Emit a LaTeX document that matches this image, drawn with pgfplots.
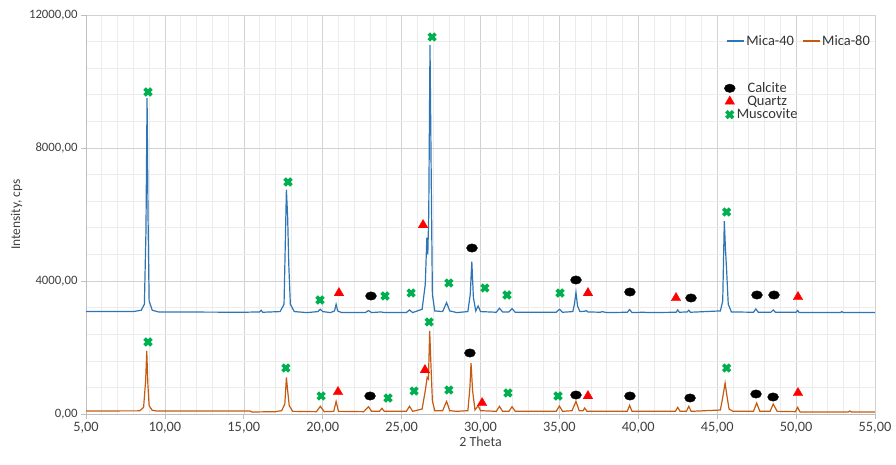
\documentclass[border=0pt]{standalone}
\usepackage{pgfplots}
\pgfplotsset{compat=1.18}
\usepackage{fontspec}
\setmainfont{Carlito}
\definecolor{micablue}{RGB}{46,117,182}
\definecolor{micaorange}{RGB}{197,90,17}
\definecolor{musgreen}{RGB}{0,176,80}
\definecolor{majgrid}{RGB}{210,210,210}
\definecolor{mingrid}{RGB}{236,236,236}
\definecolor{axgray}{RGB}{190,190,190}
\begin{document}
\begin{tikzpicture}
\useasboundingbox (0,0) rectangle (896bp,465bp);
\pgfplotsset{
  base/.style={
    at={(86bp,51bp)}, anchor=south west,
    scale only axis, width=789bp, height=399bp,
    xmin=5, xmax=55, ymin=0, ymax=12000,
  }
}
\begin{axis}[base,
  xtick={5,10,...,55}, ytick={0,4000,8000,12000},
  scaled y ticks=false, scaled x ticks=false,
  minor x tick num=4, minor y tick num=4,
  grid=both,
  major grid style={majgrid, line width=0.6pt},
  minor grid style={mingrid, line width=0.6pt},
  axis lines*=left,
  axis line style={axgray, line width=0.8pt},
  tick align=outside, major tick length=5bp, minor tick length=0pt,
  tick style={axgray, line width=0.8pt},
  /pgf/number format/.cd, fixed, fixed zerofill, precision=2, use comma, 1000 sep={}, assume math mode=true,
  /pgfplots/.cd,
  xticklabel style={font=\fontsize{14.4}{16}\selectfont, text=black!75},
  yticklabel style={font=\fontsize{12.8}{14}\selectfont, text=black!75},
  xlabel={2 Theta}, ylabel={Intensity, cps},
  xlabel style={font=\fontsize{14}{16}\selectfont, text=black!75, yshift=4bp},
  ylabel style={font=\fontsize{13.5}{16}\selectfont, text=black!75},
  legend columns=2,
  legend style={at={(1,0.935)}, anchor=east, draw=none, fill=none,
    font=\fontsize{14.5}{16}\selectfont, text=black!80,
    /tikz/every even column/.append style={column sep=6bp}},
]
\addplot[micablue, line width=1.2pt] coordinates {
(5.00,3080) (8.0,3080) (8.5,3120) (8.7,3300) (8.8,5500) (8.87,9500) (8.93,6000) (9.0,3400) (9.2,3120) (9.6,3070)
(15.0,3060) (16.0,3070) (16.1,3120) (16.2,3060) (17.3,3080) (17.55,3300) (17.7,6750) (17.78,5900) (17.85,4500)
(17.95,3300) (18.2,3080) (19.0,3050) (19.7,3080) (19.85,3150) (20.0,3080) (20.5,3050) (20.75,3100) (20.85,3300)
(20.95,3100) (21.2,3050) (22.7,3050) (22.9,3110) (23.1,3050) (23.7,3070) (23.9,3050) (25.3,3050) (25.5,3130)
(25.7,3050) (26.3,3150) (26.5,3900) (26.6,5300) (26.66,4800) (26.72,6000) (26.8,11100) (26.88,7000) (26.95,3600)
(27.1,3100) (27.6,3080) (27.85,3350) (28.05,3100) (28.5,3050) (29.2,3080) (29.35,3600) (29.45,4580) (29.55,3500)
(29.7,3100) (29.85,3250) (30.0,3080) (31.0,3060) (31.2,3180) (31.4,3070) (31.8,3070) (32.0,3170) (32.2,3060)
(34.8,3060) (35.0,3150) (35.2,3060) (35.85,3080) (35.95,3300) (36.05,3660) (36.15,3250) (36.3,3080) (36.6,3090)
(36.7,3110) (36.8,3070) (37.6,3060) (37.7,3080) (38.0,3050) (39.3,3060) (39.45,3140) (39.6,3050) (40.3,3060)
(40.7,3050) (42.4,3060) (42.5,3130) (42.6,3060) (43.1,3070) (43.2,3120) (43.3,3060) (45.2,3100) (45.35,3400)
(45.45,5800) (45.52,5000) (45.6,4300) (45.7,3300) (45.9,3070) (47.3,3060) (47.45,3160) (47.6,3060) (48.4,3060)
(48.55,3130) (48.7,3060) (50.0,3060) (50.1,3110) (50.2,3050) (52.8,3050) (52.9,3080) (53.0,3050) (55,3050)
};
\addlegendentry{Mica-40}
\addplot[micaorange, line width=1.2pt] coordinates {
(5,90) (8.4,95) (8.65,200) (8.78,1000) (8.85,1900) (8.92,900) (9.0,250) (9.2,110) (9.5,90) (15.4,90) (15.5,60)
(17.0,70) (17.4,100) (17.6,300) (17.7,1100) (17.78,700) (17.88,250) (18.1,80) (19.6,70) (19.85,230) (20.1,70)
(20.7,80) (20.85,380) (21.0,80) (22.6,70) (22.9,220) (23.1,80) (23.6,80) (23.75,170) (23.9,80) (25.3,80) (25.5,230)
(25.7,80) (26.3,150) (26.5,700) (26.62,1100) (26.7,1050) (26.78,2500) (26.85,1600) (26.95,400) (27.1,100)
(27.6,100) (27.85,380) (28.05,100) (28.5,80) (29.2,100) (29.33,800) (29.4,1530) (29.5,700) (29.65,120)
(29.85,250) (30.0,100) (31.0,80) (31.2,230) (31.4,80) (31.8,80) (32.0,220) (32.2,80) (34.8,80) (35.0,240)
(35.2,80) (35.8,100) (36.05,380) (36.25,100) (36.5,100) (36.6,180) (36.75,80) (39.3,80) (39.45,260) (39.6,80)
(42.35,80) (42.5,200) (42.65,80) (43.05,80) (43.2,230) (43.35,80) (45.2,120) (45.35,500) (45.5,930) (45.6,600)
(45.75,150) (46.0,80) (47.3,80) (47.5,330) (47.7,80) (48.35,80) (48.55,300) (48.8,80) (49.95,70) (50.1,200)
(50.25,60) (53.3,60) (53.4,90) (53.5,60) (55,60)
};
\addlegendentry{Mica-80}
\end{axis}
\begin{axis}[base, hide axis,
  legend style={at={(0.805,0.84)}, anchor=north west, draw=none, fill=none,
    font=\fontsize{14.5}{16}\selectfont, text=black!80, row sep=-1bp,
    nodes={inner sep=1.5bp}},
]
\addplot[only marks, mark=*, mark size=4.2bp, mark options={xscale=1.3, black, fill=black}] coordinates {
(23.06,3549) (29.46,4992) (36.05,4030) (39.47,3669) (43.34,3489) (47.52,3579) (48.6,3579)
(23.0,541) (29.33,1835) (36.05,571) (39.47,541) (43.28,481) (47.46,601) (48.54,511)
};
\addlegendentry{Calcite}
\addplot[only marks, mark=triangle*, mark size=5.5bp, mark options={red, fill=red}] coordinates {
(21.03,3639) (26.36,5684) (36.81,3639) (42.39,3489) (50.12,3519)
(20.97,662) (26.48,1323) (30.1,331) (36.81,541) (50.12,632)
};
\addlegendentry{Quartz}
\addplot[only marks, mark=x, mark size=4.8bp, line width=3.6bp, mark options={musgreen, line width=3.6bp}] coordinates {
(8.93,9684) (17.8,6977) (19.83,3429) (23.95,3549) (25.6,3639) (26.93,11338) (28.0,3940) (30.28,3789)
(31.68,3579) (35.04,3639) (45.6,6075)
(8.93,2165) (17.67,1383) (19.9,541) (24.14,481) (25.79,692) (26.74,2767) (28.0,722) (31.74,632)
(34.91,541) (45.6,1383)
};
\addlegendentry{Muscovite}
\end{axis}
\end{tikzpicture}
\end{document}
